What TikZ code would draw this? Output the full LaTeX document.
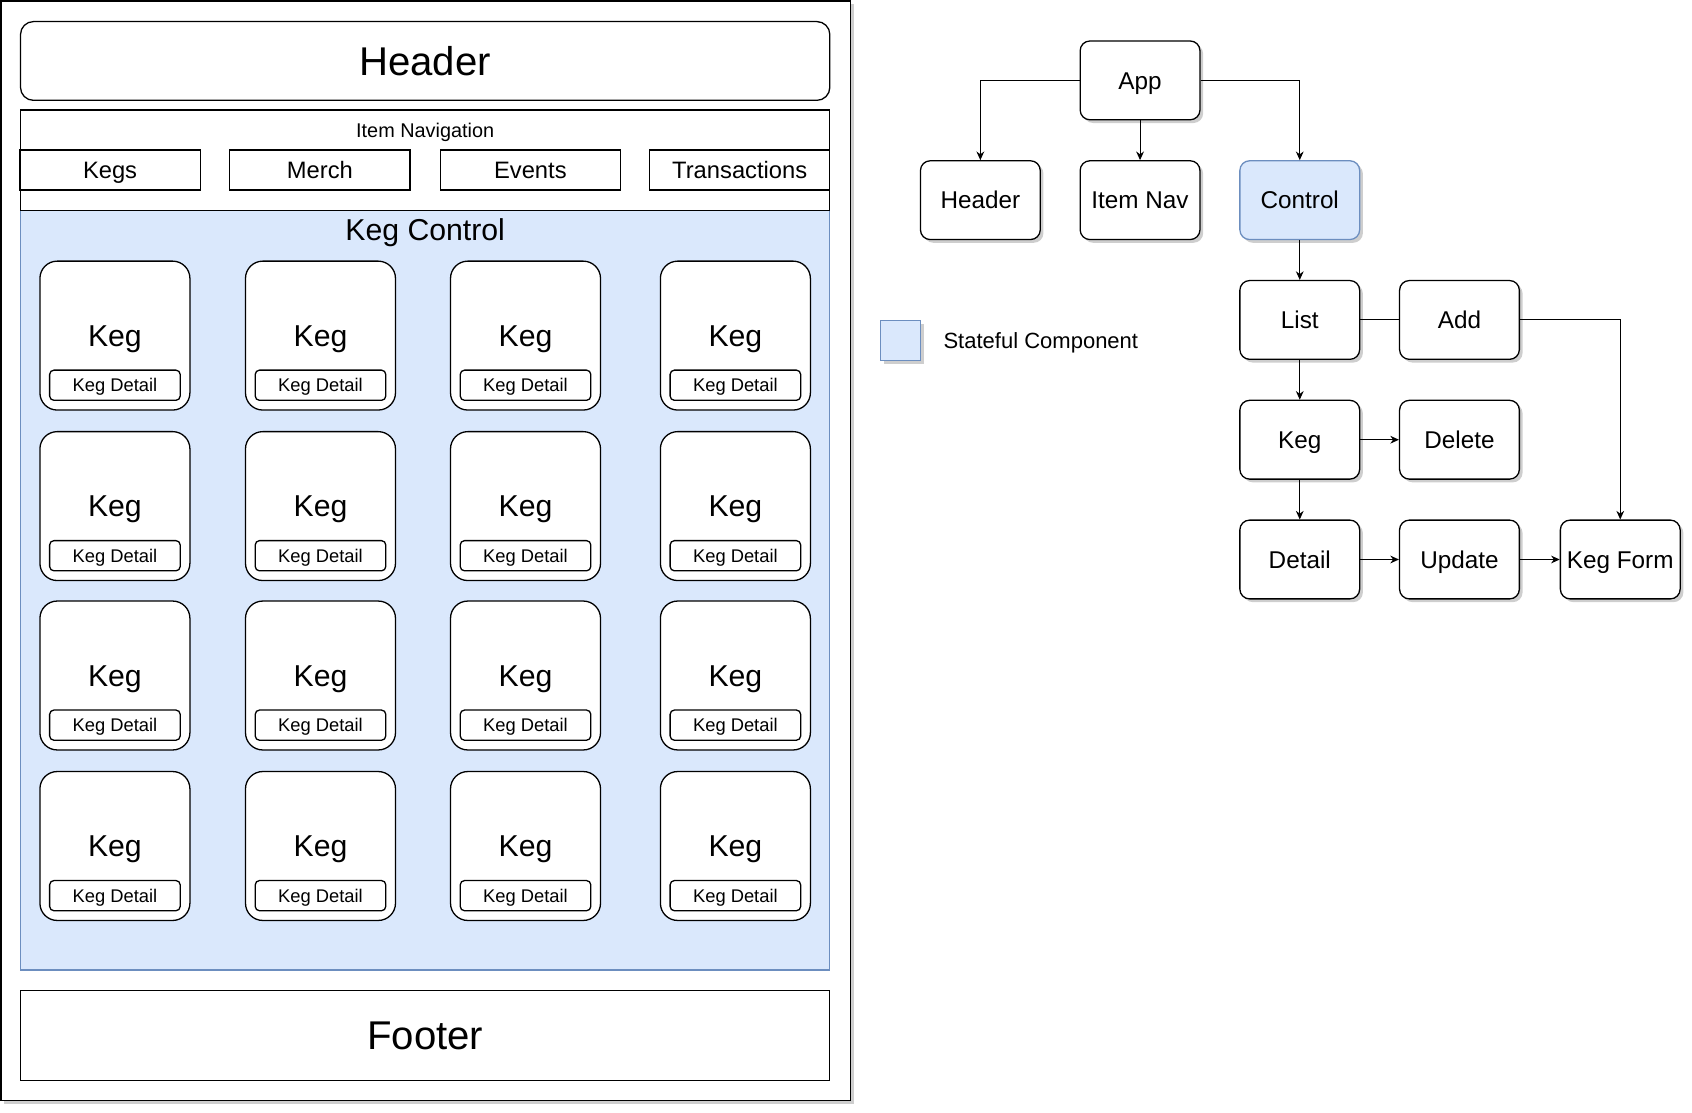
\documentclass[tikz,border=0pt]{standalone}
\usepackage{fontspec}
\setmainfont{Liberation Sans}
\usetikzlibrary{arrows.meta,shadows}
\definecolor{sfill}{HTML}{DAE8FC}
\definecolor{sdraw}{HTML}{6C8EBF}
\tikzset{
  shad/.style={drop shadow={opacity=0.35,shadow xshift=1.5pt,shadow yshift=-1.5pt,fill=black!55}},
  wbox/.style={draw=black, line width=0.6pt, fill=white, inner sep=0pt, align=center},
  outerframe/.style={wbox, shad},
  bigbox/.style={wbox, minimum width=375pt, font=\fontsize{18.6}{21}\selectfont, text height=16.74pt, text depth=3.35pt},
  treebox/.style={wbox, rounded corners=4.5pt, minimum width=55.5pt, minimum height=36.5pt, font=\fontsize{11.25}{13}\selectfont, text height=10.13pt, text depth=2.03pt, shad},
  card/.style={wbox, rounded corners=8pt, minimum width=69.5pt, minimum height=69pt, font=\fontsize{14}{16}\selectfont, text height=12.6pt, text depth=2.52pt},
  det/.style={wbox, rounded corners=2pt, minimum width=60.5pt, minimum height=14pt, font=\fontsize{8.5}{10}\selectfont, text height=7.65pt, text depth=1.53pt},
  tabbox/.style={wbox, minimum width=83.5pt, minimum height=18.5pt, font=\fontsize{11}{13}\selectfont, text height=9.9pt, text depth=1.98pt},
  arr/.style={-{Stealth[length=4pt,width=3.6pt]}, line width=0.5pt},
  ln/.style={line width=0.5pt},
  lbl/.style={inner sep=0pt},
}
\begin{document}
\begin{tikzpicture}[x=0.5pt,y=-0.5pt]
\useasboundingbox (0,0) rectangle (1568,1031);
% outer frame
\node[outerframe, minimum width=393.5pt, minimum height=509.5pt] (outer) at (394.5,510.5) {};
% header
\node[bigbox, rounded corners=6pt, minimum height=36.5pt] (hdr) at (394,56.5) {Header};
% keg control region
\node[draw=sdraw, fill=sfill, line width=0.6pt, inner sep=0pt, minimum width=375pt, minimum height=352pt] (kc) at (394,547) {};
\node[lbl, font=\fontsize{14}{16}\selectfont, text height=12.6pt, text depth=2.52pt] (kclabel) at (394,213) {Keg Control};
% item navigation
\node[wbox, minimum width=375pt, minimum height=46.5pt] (inav) at (394,148.5) {};
\node[lbl, font=\fontsize{9.2}{11}\selectfont, text height=8.28pt, text depth=1.66pt] (inavlabel) at (394,120.5) {Item Navigation};
\node[tabbox] (tkegs) at (102,157.5) {Kegs};
\node[tabbox] (tmerch) at (296.5,157.5) {Merch};
\node[tabbox] (tevents) at (491.5,157.5) {Events};
\node[tabbox] (ttrans) at (685.5,157.5) {Transactions};
% keg cards
\foreach \cx [count=\i] in {106.5,297,487,681.5}{
  \foreach \cy [count=\j] in {311,469,626,784}{
    \node[card] (k\i\j) at (\cx,\cy) {Keg};
    \node[det] (d\i\j) at (\cx,\cy+46) {Keg Detail};
  }
}
% footer
\node[bigbox, minimum height=41.5pt] (ftr) at (394,959.5) {Footer};

% tree
\node[treebox] (app) at (1056.5,74.5) {App};
\node[treebox] (theader) at (908.5,185.5) {Header};
\node[treebox] (itemnav) at (1056.5,185.5) {Item Nav};
\node[treebox, fill=sfill, draw=sdraw] (control) at (1204.5,185.5) {Control};
\node[treebox] (list) at (1204.5,296.5) {List};
\node[treebox] (add) at (1352.5,296.5) {Add};
\node[treebox] (keg) at (1204.5,407.5) {Keg};
\node[treebox] (delete) at (1352.5,407.5) {Delete};
\node[treebox] (detail) at (1204.5,518.5) {Detail};
\node[treebox] (update) at (1352.5,518.5) {Update};
\node[treebox] (kegform) at (1501.5,518.5) {Keg Form};

% legend
\node[draw=sdraw, fill=sfill, line width=0.6pt, inner sep=0pt, minimum width=18.5pt, minimum height=18.5pt, shad] (legsq) at (834.5,315.5) {};
\node[lbl, anchor=west, font=\fontsize{10.2}{12}\selectfont, text height=9.18pt, text depth=1.84pt] (legtxt) at (874,316) {Stateful Component};

% connectors
\draw[arr] (app.west) -| (theader.north);
\draw[arr] (app.south) -- (itemnav.north);
\draw[arr] (app.east) -| (control.north);
\draw[arr] (control) -- (list);
\draw[ln] (list) -- (add);
\draw[arr] (add.east) -| (kegform.north);
\draw[arr] (list) -- (keg);
\draw[arr] (keg) -- (delete);
\draw[arr] (keg) -- (detail);
\draw[arr] (detail) -- (update);
\draw[arr] (update) -- (kegform);
\end{tikzpicture}
\end{document}
